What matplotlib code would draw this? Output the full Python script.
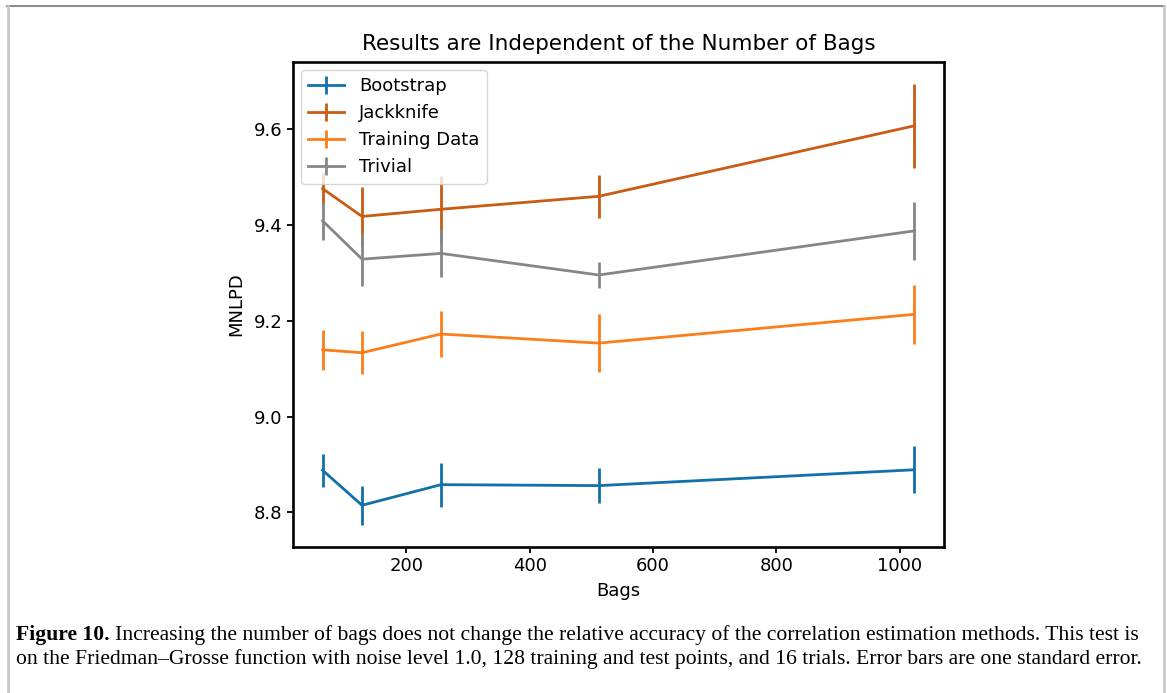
import matplotlib
matplotlib.use("Agg")
import matplotlib.pyplot as plt
from matplotlib.lines import Line2D

bags = [64, 128, 256, 512, 1024]
bootstrap_mean = [8.888, 8.815, 8.858, 8.856, 8.889]
bootstrap_err = [0.034, 0.041, 0.046, 0.037, 0.049]
jackknife_mean = [9.475, 9.417, 9.432, 9.459, 9.606]
jackknife_err = [0.035, 0.062, 0.070, 0.045, 0.087]
training_mean = [9.139, 9.133, 9.172, 9.153, 9.213]
training_err = [0.041, 0.045, 0.048, 0.061, 0.062]
trivial_mean = [9.408, 9.328, 9.340, 9.295, 9.387]
trivial_err = [0.040, 0.055, 0.050, 0.028, 0.060]

series_names = ["Bootstrap", "Jackknife", "Training Data", "Trivial"]
colors = ["#1170aa", "#c85c14", "#fb7e1a", "#868686"]

title = "Results are Independent of the Number of Bags"
xlabel = "Bags"
ylabel = "MNLPD"
cap_bold = "Figure 10."
cap_line1 = "Increasing the number of bags does not change the relative accuracy of the correlation estimation methods. This test is"
cap_line2 = "on the Friedman\u2013Grosse function with noise level 1.0, 128 training and test points, and 16 trials. Error bars are one standard error."

W, H = 1167, 693
fig = plt.figure(figsize=(W / 100, H / 100), dpi=100)
ax = fig.add_axes([293 / W, 1 - 547 / H, (944 - 293) / W, (547 - 62) / H])

means = [bootstrap_mean, jackknife_mean, training_mean, trivial_mean]
errs = [bootstrap_err, jackknife_err, training_err, trivial_err]
for name, m, e, c in zip(series_names, means, errs, colors):
    ax.errorbar(bags, m, yerr=e, color=c, lw=2.0, elinewidth=2.0, capsize=0, label=name)

ax.set_yticks([8.8, 9.0, 9.2, 9.4, 9.6])
ax.set_xticks([200, 400, 600, 800, 1000])
ax.tick_params(labelsize=13, length=4, width=1.3)
for s in ax.spines.values():
    s.set_linewidth(1.9)
ax.set_title(title, fontsize=15.5, pad=9)
ax.set_xlabel(xlabel, fontsize=13, labelpad=5)
ax.set_ylabel(ylabel, fontsize=13, labelpad=6)
ax.legend(loc="upper left", fontsize=13, handlelength=2.0, borderpad=0.4,
          labelspacing=0.5, handletextpad=0.8, borderaxespad=0.45)

# figure border
fig.add_artist(Line2D([7 / W, 1164 / W], [1 - 6 / H, 1 - 6 / H], color="#8e8e8e", lw=1.5))
fig.add_artist(Line2D([7.5 / W, 7.5 / W], [0, 1 - 6 / H], color="#c4c4c4", lw=1.8))
fig.add_artist(Line2D([1163.5 / W, 1163.5 / W], [0, 1 - 6 / H], color="#c4c4c4", lw=1.8))

# caption
renderer = fig.canvas.get_renderer()
serif = "Liberation Serif"


def draw_line(y_px, parts, fs):
    x = 16
    objs = []
    for txt, weight in parts:
        t = fig.text(x / W, 1 - y_px / H, txt, fontsize=fs, family=serif,
                     weight=weight, va="baseline", ha="left")
        bb = t.get_window_extent(renderer)
        x = bb.x1 + fs * 0.25 * 100 / 72
        objs.append(t)
    return objs, objs[-1].get_window_extent(renderer).x1


fs = 12.0
objs, x1 = draw_line(640, [(cap_bold, "bold"), (cap_line1, "normal")], fs)
scale = (1134 - 16) / (x1 - 16)
for o in objs:
    o.remove()
fs = fs * scale
draw_line(640, [(cap_bold, "bold"), (cap_line1, "normal")], fs)
draw_line(664, [(cap_line2, "normal")], fs)

fig.savefig("out.png", dpi=100)
